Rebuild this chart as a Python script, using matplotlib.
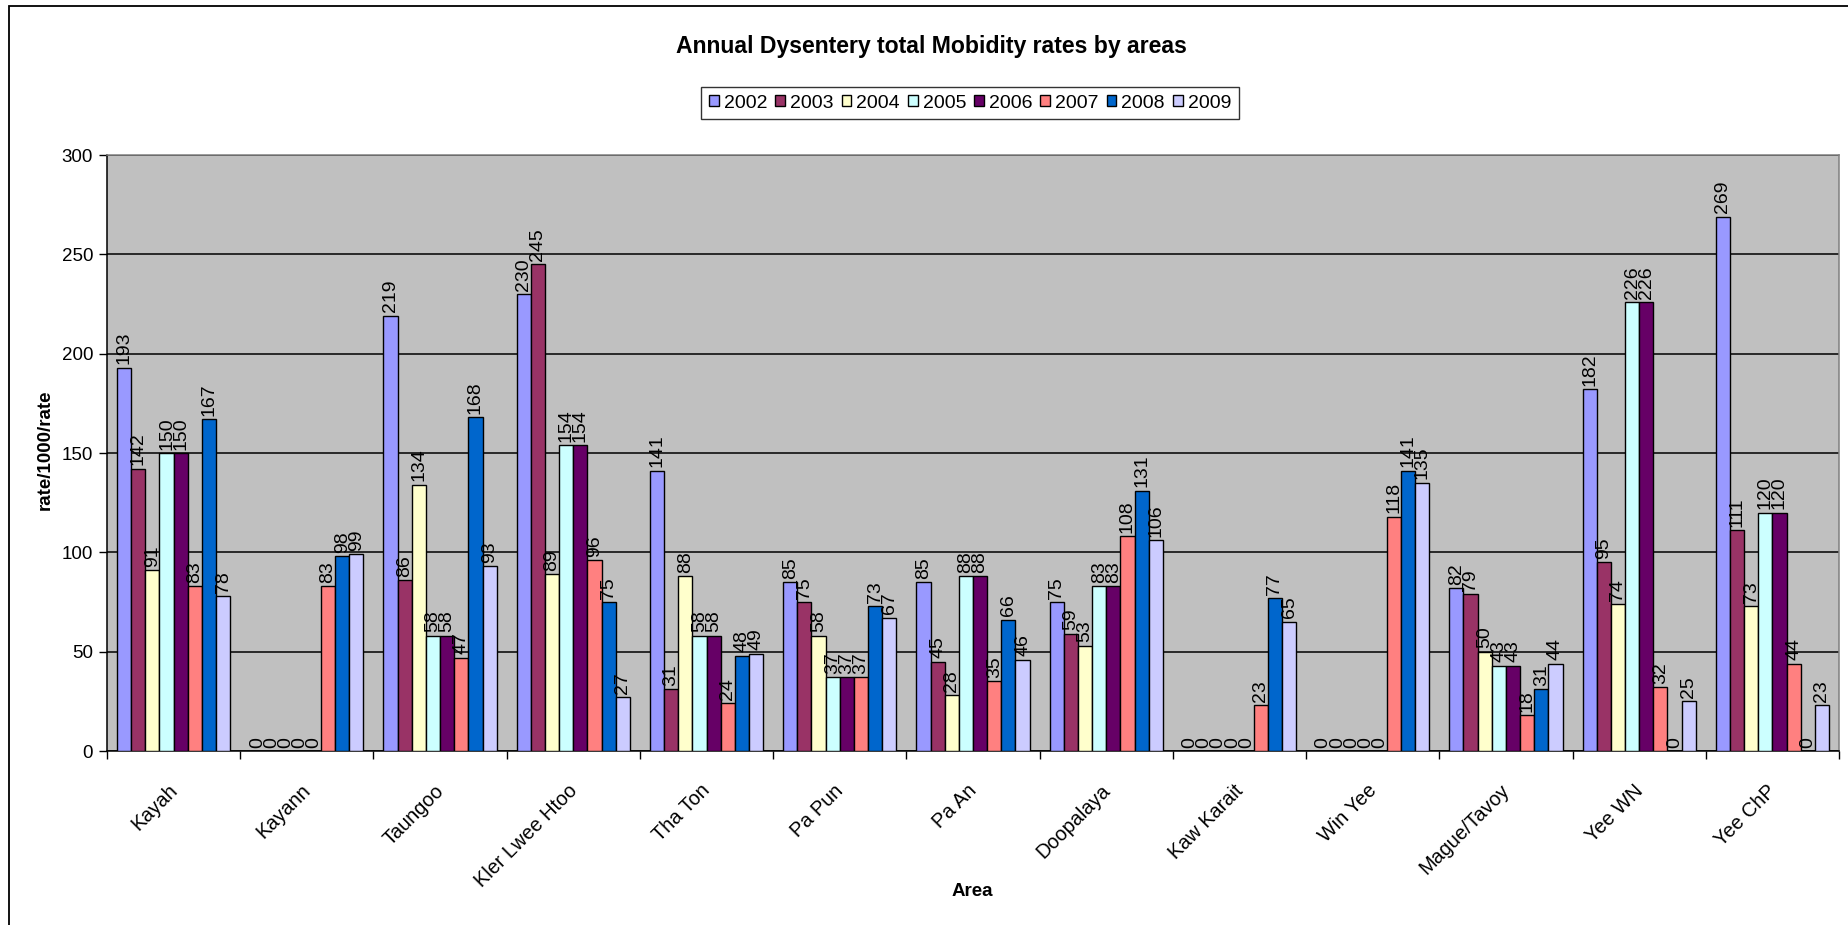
import matplotlib
matplotlib.use("Agg")
import matplotlib.pyplot as plt
from matplotlib.patches import Rectangle, Patch
from matplotlib.transforms import ScaledTranslation
import numpy as np

plt.rcParams['font.family'] = ['Liberation Sans', 'DejaVu Sans']

areas = ["Kayah", "Kayann", "Taungoo", "Kler Lwee Htoo", "Tha Ton", "Pa Pun",
         "Pa An", "Doopalaya", "Kaw Karait", "Win Yee", "Mague/Tavoy",
         "Yee WN", "Yee ChP"]
years = ["2002", "2003", "2004", "2005", "2006", "2007", "2008", "2009"]

rate_2002 = [193, 0, 219, 230, 141, 85, 85, 75, 0, 0, 82, 182, 269]
rate_2003 = [142, 0, 86, 245, 31, 75, 45, 59, 0, 0, 79, 95, 111]
rate_2004 = [91, 0, 134, 89, 88, 58, 28, 53, 0, 0, 50, 74, 73]
rate_2005 = [150, 0, 58, 154, 58, 37, 88, 83, 0, 0, 43, 226, 120]
rate_2006 = [150, 0, 58, 154, 58, 37, 88, 83, 0, 0, 43, 226, 120]
rate_2007 = [83, 83, 47, 96, 24, 37, 35, 108, 23, 118, 18, 32, 44]
rate_2008 = [167, 98, 168, 75, 48, 73, 66, 131, 77, 141, 31, 0, 0]
rate_2009 = [78, 99, 93, 27, 49, 67, 46, 106, 65, 135, 44, 25, 23]

series = [rate_2002, rate_2003, rate_2004, rate_2005,
          rate_2006, rate_2007, rate_2008, rate_2009]
colors = ["#9999FF", "#993366", "#FFFFCC", "#CCFFFF",
          "#660066", "#FF8080", "#0066CC", "#CCCCFF"]

W, H = 1849, 925
fig = plt.figure(figsize=(W / 100, H / 100), dpi=100)
fig.patch.set_facecolor("white")

# outer chart border
fig.patches.append(Rectangle((9 / W, -0.05), 1.1, 1 - 6 / H + 0.05,
                             transform=fig.transFigure, fill=False,
                             edgecolor="black", linewidth=1.3))

left, right, top, bottom = 107, 1839, 155, 751
ax = fig.add_axes([left / W, 1 - bottom / H, (right - left) / W, (bottom - top) / H])
ax.set_facecolor("#C0C0C0")

n = len(series)
group = 0.85
bw = group / n
x = np.arange(len(areas))

for i, (vals, col) in enumerate(zip(series, colors)):
    xs = x - group / 2 + bw * (i + 0.5)
    ax.bar(xs, vals, width=bw, color=col, edgecolor="black", linewidth=1.0,
           zorder=3, label=years[i])
    for xx, v in zip(xs, vals):
        ax.annotate(str(v), (xx, v), xytext=(0, 2.5), textcoords="offset points",
                    rotation=90, ha="center", va="bottom", fontsize=14,
                    zorder=4)

ax.set_xlim(-0.5, len(areas) - 0.5)
ax.set_ylim(0, 300)
ax.set_yticks(np.arange(0, 301, 50))
ax.yaxis.grid(True, color="black", linewidth=1.1, zorder=1)
ax.set_axisbelow(True)

# category boundaries as ticks, names as rotated text under each group
ax.set_xticks(np.arange(-0.5, len(areas), 1.0))
ax.set_xticklabels([])
ax.tick_params(axis="x", length=6, direction="out", width=1)
ax.tick_params(axis="y", length=6, direction="out", width=1, labelsize=13.5, pad=4)

name_tr = ax.get_xaxis_transform() + ScaledTranslation(-6 / 100, -30 / 100,
                                                       fig.dpi_scale_trans)
for xc, name in zip(x, areas):
    ax.text(xc, 0, name, transform=name_tr, rotation=45, ha="right", va="top",
            rotation_mode="anchor", fontsize=14.3, clip_on=False)

for s in ("left", "bottom"):
    ax.spines[s].set_color("black")
    ax.spines[s].set_linewidth(1.1)
for s in ("top", "right"):
    ax.spines[s].set_color("#808080")
    ax.spines[s].set_linewidth(1.1)

fig.text(931 / W, 1 - 47 / H, "Annual Dysentery total Mobidity rates by areas",
         ha="center", va="center", fontsize=16.6, fontweight="bold")
fig.text(972 / W, 1 - 891 / H, "Area", ha="center", va="center",
         fontsize=13.5, fontweight="bold")
fig.text(45 / W, 1 - 450 / H, "rate/1000/rate", ha="center", va="center",
         rotation=90, fontsize=13.5, fontweight="bold")

handles = [Patch(facecolor=c, edgecolor="black", linewidth=1.0) for c in colors]
leg = fig.legend(handles, years, loc="center", bbox_to_anchor=(970 / W, 1 - 103 / H),
                 ncol=8, fontsize=14, frameon=True, fancybox=False,
                 handlelength=0.5, handleheight=0.5, handletextpad=0.25,
                 columnspacing=0.42, borderpad=0.4, borderaxespad=0)
leg.get_frame().set_edgecolor("black")
leg.get_frame().set_linewidth(1.0)

fig.savefig("out.png", dpi=100)
